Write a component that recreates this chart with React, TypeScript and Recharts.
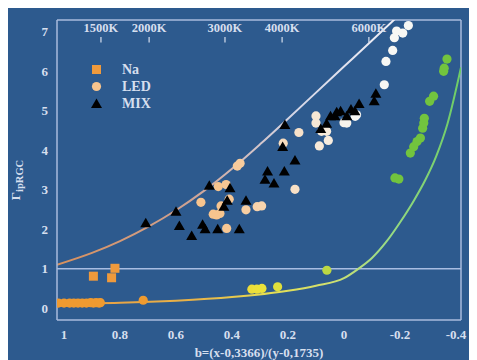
import { ComposedChart, Scatter, Line, XAxis, YAxis, ReferenceLine } from 'recharts'

const BG = '#2d5a8e'
const AXIS = '#a9bbdc'
const TEXT = '#d6dfee'
const FONT = '"Liberation Serif", "DejaVu Serif", "Times New Roman", serif'

// b values (x) and Γ_ipRGC values (y)
const xTicks = [1, 0.8, 0.6, 0.4, 0.2, 0, -0.2, -0.4]
const yTicks = [0, 1, 2, 3, 4, 5, 6, 7]
const tempB = [0.868, 0.696, 0.425, 0.221, -0.089]
const tempLabels = ['1500K', '2000K', '3000K', '4000K', '6000K']

const naSquares = [
  { b: 0.895, g: 0.81 },
  { b: 0.83, g: 0.77 },
  { b: 0.818, g: 1.01 },
]

const lowDots = [
  { b: 1.02, g: 0.13 }, { b: 1.0, g: 0.13 }, { b: 0.98, g: 0.13 }, { b: 0.965, g: 0.13 },
  { b: 0.95, g: 0.13 }, { b: 0.935, g: 0.13 }, { b: 0.92, g: 0.13 }, { b: 0.905, g: 0.14 },
  { b: 0.895, g: 0.13 }, { b: 0.885, g: 0.14 }, { b: 0.875, g: 0.13 }, { b: 0.87, g: 0.14 },
  { b: 0.717, g: 0.2 },
  { b: 0.329, g: 0.48 }, { b: 0.311, g: 0.48 }, { b: 0.293, g: 0.5 }, { b: 0.237, g: 0.54 },
  { b: 0.061, g: 0.96 },
  { b: -0.182, g: 3.3 }, { b: -0.196, g: 3.27 }, { b: -0.237, g: 3.93 }, { b: -0.249, g: 4.09 },
  { b: -0.261, g: 4.22 }, { b: -0.273, g: 4.31 }, { b: -0.281, g: 4.56 }, { b: -0.285, g: 4.69 },
  { b: -0.287, g: 4.81 }, { b: -0.306, g: 5.24 }, { b: -0.32, g: 5.37 }, { b: -0.356, g: 6.0 },
  { b: -0.358, g: 6.08 }, { b: -0.368, g: 6.31 },
]

const ledDots = [
  { b: 0.511, g: 2.68 }, { b: 0.449, g: 3.08 }, { b: 0.421, g: 3.13 }, { b: 0.467, g: 2.38 },
  { b: 0.443, g: 2.4 }, { b: 0.455, g: 2.36 }, { b: 0.41, g: 2.76 }, { b: 0.419, g: 2.02 },
  { b: 0.439, g: 2.59 }, { b: 0.35, g: 2.49 }, { b: 0.31, g: 2.57 }, { b: 0.294, g: 2.59 },
  { b: 0.175, g: 3.01 }, { b: 0.371, g: 3.67 }, { b: 0.381, g: 3.6 }, { b: 0.161, g: 4.45 },
  { b: 0.217, g: 4.18 },
  { b: 0.1, g: 4.87 }, { b: 0.1, g: 4.69 }, { b: 0.08, g: 4.48 }, { b: 0.062, g: 4.48 },
  { b: 0.056, g: 4.25 }, { b: 0.088, g: 4.11 }, { b: 0.0, g: 4.7 }, { b: -0.01, g: 4.69 },
  { b: -0.04, g: 4.86 }, { b: -0.045, g: 4.9 },
  { b: -0.144, g: 5.66 }, { b: -0.15, g: 6.25 }, { b: -0.174, g: 6.53 }, { b: -0.18, g: 6.85 },
  { b: -0.188, g: 7.02 }, { b: -0.21, g: 6.97 }, { b: -0.23, g: 7.16 },
]

const mixTriangles = [
  { b: 0.708, g: 2.15 }, { b: 0.6, g: 2.44 }, { b: 0.588, g: 2.08 }, { b: 0.544, g: 1.83 },
  { b: 0.505, g: 2.11 }, { b: 0.496, g: 2.0 }, { b: 0.481, g: 3.1 }, { b: 0.451, g: 2.0 },
  { b: 0.374, g: 2.0 }, { b: 0.407, g: 3.04 }, { b: 0.417, g: 2.72 }, { b: 0.429, g: 2.57 },
  { b: 0.35, g: 2.72 }, { b: 0.25, g: 3.16 }, { b: 0.282, g: 3.25 }, { b: 0.273, g: 3.46 },
  { b: 0.213, g: 3.46 }, { b: 0.175, g: 3.74 }, { b: 0.219, g: 4.08 }, { b: 0.211, g: 4.64 },
  { b: 0.083, g: 4.54 }, { b: 0.062, g: 4.67 }, { b: 0.048, g: 4.86 }, { b: 0.032, g: 4.86 },
  { b: 0.026, g: 4.96 }, { b: 0.012, g: 4.99 }, { b: -0.01, g: 4.86 }, { b: -0.025, g: 5.03 },
  { b: -0.039, g: 4.99 }, { b: -0.054, g: 5.17 }, { b: -0.108, g: 5.24 }, { b: -0.114, g: 5.43 },
]

// fitted curves
const upperCurve = [
  { b: 1.025, g: 1.1 }, { b: 0.9, g: 1.4 }, { b: 0.8, g: 1.7 }, { b: 0.7, g: 2.06 },
  { b: 0.6, g: 2.48 }, { b: 0.5, g: 2.97 }, { b: 0.4, g: 3.53 }, { b: 0.3, g: 4.15 },
  { b: 0.2, g: 4.8 }, { b: 0.1, g: 5.46 }, { b: 0.0, g: 6.12 }, { b: -0.1, g: 6.78 },
  { b: -0.18, g: 7.31 },
]

const lowerCurve = [
  { b: 1.025, g: 0.12 }, { b: 0.8, g: 0.14 }, { b: 0.6, g: 0.19 }, { b: 0.4, g: 0.28 },
  { b: 0.2, g: 0.44 }, { b: 0.1, g: 0.57 }, { b: 0.0, g: 0.76 }, { b: -0.05, g: 0.99 },
  { b: -0.1, g: 1.27 }, { b: -0.15, g: 1.67 }, { b: -0.2, g: 2.17 }, { b: -0.25, g: 2.73 },
  { b: -0.29, g: 3.24 }, { b: -0.33, g: 3.86 }, { b: -0.37, g: 4.68 }, { b: -0.418, g: 6.1 },
]

function hexToRgb(h: string) {
  const n = parseInt(h.slice(1), 16)
  return [(n >> 16) & 255, (n >> 8) & 255, n & 255]
}

function mix(a: string, c: string, t: number) {
  const p = hexToRgb(a)
  const q = hexToRgb(c)
  const r = p.map((v, i) => Math.round(v + (q[i] - v) * t))
  return `rgb(${r[0]},${r[1]},${r[2]})`
}

function ledColor(b: number) {
  const t = Math.min(1, Math.max(0, (0.45 - b) / 0.5))
  return mix('#f7c48e', '#f7f7f4', t)
}

const lowStops: [number, string][] = [
  [0.72, '#ef9a30'],
  [0.3, '#ece23a'],
  [0.06, '#bcd843'],
  [-0.18, '#72c43e'],
]

function lowColor(b: number) {
  if (b >= lowStops[0][0]) return lowStops[0][1]
  for (let i = 1; i < lowStops.length; i++) {
    const [b0, c0] = lowStops[i - 1]
    const [b1, c1] = lowStops[i]
    if (b >= b1) return mix(c0, c1, (b0 - b) / (b0 - b1))
  }
  return lowStops[lowStops.length - 1][1]
}

function SquareShape(props: any) {
  const { cx, cy } = props
  return <rect x={cx - 4.5} y={cy - 4.5} width={9} height={9} fill="#ef9a3c" />
}

function TriangleShape(props: any) {
  const { cx, cy } = props
  return <path d={`M${cx},${cy - 5.5}L${cx + 5.5},${cy + 4}L${cx - 5.5},${cy + 4}Z`} fill="#000" />
}

function LedShape(props: any) {
  const { cx, cy, payload } = props
  return <circle cx={cx} cy={cy} r={4.6} fill={ledColor(payload.b)} />
}

function LowShape(props: any) {
  const { cx, cy, payload } = props
  return <circle cx={cx} cy={cy} r={4.6} fill={lowColor(payload.b)} />
}

function YTitle() {
  return (
    <text transform="translate(11.5,176) rotate(-90)" textAnchor="middle" fill={TEXT} fontFamily={FONT} fontWeight="bold">
      <tspan fontSize={13}>Γ</tspan>
      <tspan fontSize={10.5} dy={3}>ipRGC</tspan>
    </text>
  )
}

const tickStyle = { fill: TEXT, fontSize: 13, fontWeight: 'bold', fontFamily: FONT }

function LegendBox() {
  const rows = [
    { label: 'Na', icon: <rect x={2} y={2} width={9} height={9} fill="#ef9a3c" /> },
    { label: 'LED', icon: <circle cx={6.5} cy={6.5} r={4.6} fill="#f7c48e" /> },
    { label: 'MIX', icon: <path d="M6.5,1.5L12,11L1,11Z" fill="#000" /> },
  ]
  return (
    <div style={{ position: 'absolute', left: 82, top: 57, fontFamily: FONT, color: TEXT }}>
      {rows.map((r) => (
        <div key={r.label} style={{ display: 'flex', alignItems: 'center', height: 17 }}>
          <svg width={13} height={13} style={{ marginRight: 19 }}>
            {r.icon}
          </svg>
          <span style={{ fontSize: 14, fontWeight: 'bold' }}>{r.label}</span>
        </div>
      ))}
    </div>
  )
}

export default function App() {
  const xDomain: [number, number] = [-0.418, 1.025]
  const yDomain: [number, number] = [-0.3, 7.3]
  return (
    <div style={{ position: 'relative', width: 469, height: 356, marginTop: -4, background: BG }}>
      <ComposedChart width={469} height={356} margin={{ top: 16, right: 16, left: 0, bottom: 0 }}>
        <defs>
          <linearGradient id="upperGrad" x1="0" y1="0" x2="1" y2="0">
            <stop offset="0%" stopColor="#d8905c" />
            <stop offset="40%" stopColor="#cfa394" />
            <stop offset="70%" stopColor="#d4d6e6" />
            <stop offset="100%" stopColor="#eeeef6" />
          </linearGradient>
          <linearGradient id="lowerGrad" x1="0" y1="0" x2="1" y2="0">
            <stop offset="0%" stopColor="#e89a44" />
            <stop offset="35%" stopColor="#e8b448" />
            <stop offset="52%" stopColor="#e6de52" />
            <stop offset="68%" stopColor="#d0e070" />
            <stop offset="80%" stopColor="#9edc86" />
            <stop offset="100%" stopColor="#6ccc66" />
          </linearGradient>
        </defs>
        <XAxis
          type="number"
          dataKey="b"
          domain={xDomain}
          allowDataOverflow
          reversed
          ticks={xTicks}
          height={40}
          tickSize={0}
          tickMargin={10}
          axisLine={{ stroke: AXIS, strokeWidth: 1.5 }}
          tickLine={false}
          tick={tickStyle}
          label={{
            value: 'b=(x-0,3366)/(y-0,1735)',
            position: 'insideBottom',
            offset: 3,
            fill: TEXT,
            fontSize: 13,
            fontWeight: 'bold',
            fontFamily: FONT,
          }}
        />
        <YAxis
          type="number"
          domain={yDomain}
          allowDataOverflow
          ticks={yTicks}
          width={49}
          tickSize={0}
          tickMargin={9}
          axisLine={{ stroke: AXIS, strokeWidth: 1.5 }}
          tickLine={false}
          tick={tickStyle}
          label={{ content: () => <YTitle /> }}
        />
        {/* frame: top and right borders */}
        <ReferenceLine y={yDomain[1]} stroke={AXIS} strokeWidth={1.5} />
        <ReferenceLine x={xDomain[0]} stroke={AXIS} strokeWidth={1.5} />
        {/* colour temperature scale */}
        {tempB.map((b, i) => (
          <ReferenceLine
            key={tempLabels[i]}
            segment={[{ x: b, y: 6.73 }, { x: b, y: 6.87 }]}
            stroke={TEXT}
            strokeWidth={1.2}
            label={{
              value: tempLabels[i],
              position: 'top',
              offset: 5,
              fill: TEXT,
              fontSize: 12.5,
              fontWeight: 'bold',
              fontFamily: FONT,
            }}
          />
        ))}
        <ReferenceLine y={1} stroke="#a9bde2" strokeWidth={1.5} />
        <Line
          data={upperCurve}
          dataKey="g"
          type="monotone"
          stroke="url(#upperGrad)"
          strokeWidth={2}
          dot={false}
          activeDot={false}
          isAnimationActive={false}
        />
        <Line
          data={lowerCurve}
          dataKey="g"
          type="monotone"
          stroke="url(#lowerGrad)"
          strokeWidth={2}
          dot={false}
          activeDot={false}
          isAnimationActive={false}
        />
        <Scatter name="low" data={lowDots} dataKey="g" shape={<LowShape />} isAnimationActive={false} />
        <Scatter name="LED" data={ledDots} dataKey="g" shape={<LedShape />} isAnimationActive={false} />
        <Scatter name="Na" data={naSquares} dataKey="g" shape={<SquareShape />} isAnimationActive={false} />
        <Scatter name="MIX" data={mixTriangles} dataKey="g" shape={<TriangleShape />} isAnimationActive={false} />
      </ComposedChart>
      <LegendBox />
    </div>
  )
}
